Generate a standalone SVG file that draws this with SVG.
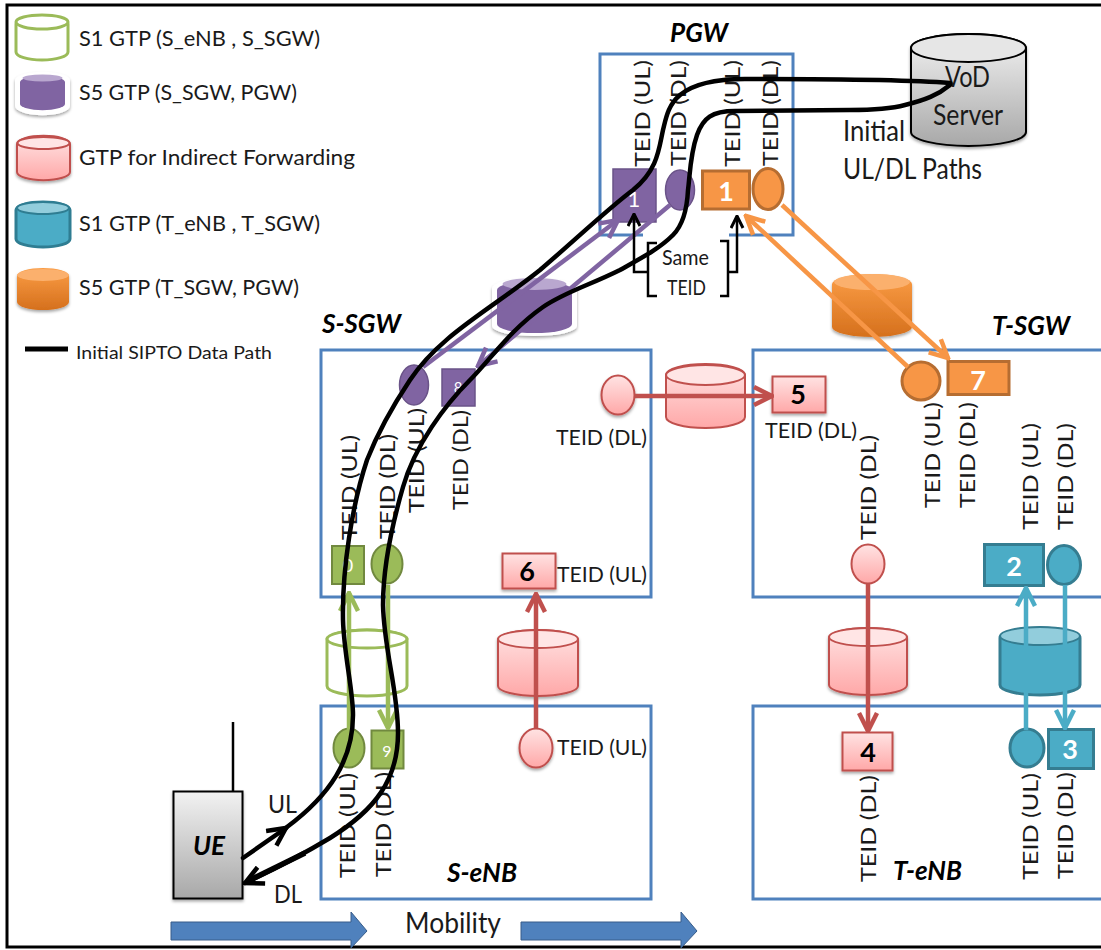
<svg xmlns="http://www.w3.org/2000/svg" width="1101" height="950" viewBox="0 0 1101 950">
<style>
text{font-family:"Lato","Noto Sans","Liberation Sans",sans-serif;fill:#1a1a1a}
.box{fill:none;stroke:#4f81bd;stroke-width:3}
.lg{font-size:22px}
.t{font-size:22px}
.ti{font-size:26px;font-weight:700;font-style:italic;fill:#000}
.big{font-size:29px}
.num{font-size:27px;font-weight:700;text-anchor:middle}
.w{fill:#fff}
.k{fill:#000}
.grn{fill:#9bbb59;stroke:#71893f;stroke-width:2}
.pur{fill:#8064a2;stroke:#6a5388;stroke-width:1.5}
.pnk{fill:url(#gp);stroke:#c0504d;stroke-width:2}
.tea{fill:#4bacc6;stroke:#357d91;stroke-width:3}
.org{fill:#f79646;stroke:#b66d31;stroke-width:3}
.ln{fill:none;stroke-width:4.500}
.black{fill:none;stroke:#000;stroke-width:4.500;stroke-linecap:round;stroke-linejoin:round}
</style>
<defs>
<linearGradient id="gp" x1="0" y1="0" x2="0" y2="1"><stop offset="0" stop-color="#ffe3e3"/><stop offset="1" stop-color="#ffa8a8"/></linearGradient>
<linearGradient id="go" x1="0" y1="0" x2="0" y2="1"><stop offset="0" stop-color="#fb9d45"/><stop offset="1" stop-color="#d5701d"/></linearGradient>
<linearGradient id="gg" x1="0" y1="0" x2="0" y2="1"><stop offset="0" stop-color="#f2f2f2"/><stop offset="1" stop-color="#a8a8a8"/></linearGradient>
<filter id="sh" x="-10%" y="-10%" width="120%" height="125%"><feDropShadow dx="0" dy="2" stdDeviation="1.5" flood-color="#000" flood-opacity=".35"/></filter>
<marker id="mG" viewBox="0 0 10 10" refX="9" refY="5" markerWidth="5" markerHeight="5" orient="auto"><path d="M1,1 L9,5 L1,9" fill="none" stroke="#9bbb59" stroke-width="2"/></marker>
<marker id="mP" viewBox="0 0 10 10" refX="9" refY="5" markerWidth="5" markerHeight="5" orient="auto"><path d="M1,1 L9,5 L1,9" fill="none" stroke="#8064a2" stroke-width="2"/></marker>
<marker id="mR" viewBox="0 0 10 10" refX="9" refY="5" markerWidth="5" markerHeight="5" orient="auto"><path d="M1,1 L9,5 L1,9" fill="none" stroke="#c0504d" stroke-width="2"/></marker>
<marker id="mT" viewBox="0 0 10 10" refX="9" refY="5" markerWidth="5" markerHeight="5" orient="auto"><path d="M1,1 L9,5 L1,9" fill="none" stroke="#4bacc6" stroke-width="2"/></marker>
<marker id="mO" viewBox="0 0 10 10" refX="9" refY="5" markerWidth="5" markerHeight="5" orient="auto"><path d="M1,1 L9,5 L1,9" fill="none" stroke="#f79646" stroke-width="2"/></marker>
<marker id="mK" viewBox="0 0 10 10" refX="9" refY="5" markerWidth="6" markerHeight="6" orient="auto"><path d="M1,1 L9,5 L1,9" fill="none" stroke="#000" stroke-width="2"/></marker>
<marker id="mK2" viewBox="0 0 10 10" refX="9" refY="5" markerWidth="5" markerHeight="5" orient="auto"><path d="M1,1 L9,5 L1,9" fill="none" stroke="#000" stroke-width="2"/></marker>
</defs>
<rect id="frame" x="7" y="5" width="1110" height="942" fill="#fff" stroke="#000" stroke-width="3"/>

<g id="legend">
<g id="leg-s1-source" fill="#fff" stroke="#9bbb59" stroke-width="3"><path d="M16,24 A26,8 0 0 1 68,24 V52 A26,8 0 0 1 16,52 Z"/><ellipse cx="42" cy="22" rx="26" ry="7"/></g>
<g id="leg-s5-source"><path d="M15,80 A27,8 0 0 1 70,80 V106 A27,9 0 0 1 15,106 Z" fill="#fff" filter="url(#sh)"/><path d="M20,82 A22,6 0 0 1 65,82 V104 A22,6 0 0 1 20,104 Z" fill="#8064a2"/><ellipse cx="42.500" cy="78" rx="20" ry="3.500" fill="#b9a7cf"/></g>
<g id="leg-fwd" filter="url(#sh)"><path d="M17,144 A26,8 0 0 1 70,144 V172 A26,8 0 0 1 17,172 Z" fill="url(#gp)" stroke="#c0504d" stroke-width="2"/><ellipse cx="43.500" cy="143" rx="26" ry="6" fill="#ffe5e5" stroke="#c0504d" stroke-width="2"/></g>
<g id="leg-s1-target"><path d="M16,210 A27,8 0 0 1 70,210 V239 A27,8 0 0 1 16,239 Z" fill="#4bacc6" stroke="#2f7d92" stroke-width="3"/><ellipse cx="43" cy="208" rx="26" ry="6" fill="#92cddc" stroke="#2f7d92" stroke-width="2"/></g>
<g id="leg-s5-target" filter="url(#sh)"><path d="M17,276 A26,8 0 0 1 69,276 V302 A26,8 0 0 1 17,302 Z" fill="url(#go)"/><ellipse cx="43" cy="275" rx="26" ry="6" fill="#fbb06d"/></g>
<line x1="25" y1="349" x2="68" y2="349" stroke="#000" stroke-width="5"/>
<text class="lg" x="79" y="46" textLength="241" lengthAdjust="spacingAndGlyphs">S1 GTP (S_eNB , S_SGW)</text>
<text class="lg" x="79" y="100" textLength="218" lengthAdjust="spacingAndGlyphs">S5 GTP (S_SGW, PGW)</text>
<text class="lg" x="79" y="165" textLength="276" lengthAdjust="spacingAndGlyphs">GTP for Indirect Forwarding</text>
<text class="lg" x="79" y="231" textLength="241" lengthAdjust="spacingAndGlyphs">S1 GTP (T_eNB , T_SGW)</text>
<text class="lg" x="79" y="295" textLength="220" lengthAdjust="spacingAndGlyphs">S5 GTP (T_SGW, PGW)</text>
<text x="76" y="359" font-size="18" textLength="196" lengthAdjust="spacingAndGlyphs">Initial SIPTO Data Path</text>
</g>

<g id="vod-server">
<path d="M911,48 A57.500,14 0 0 1 1026,48 V132 A57.500,14 0 0 1 911,132 Z" fill="url(#gg)" stroke="#000" stroke-width="2" filter="url(#sh)"/>
<ellipse cx="968.500" cy="48" rx="57.500" ry="14" fill="#e6e6e6" stroke="#000" stroke-width="2"/>
<text class="big" x="945" y="87" textLength="45" lengthAdjust="spacingAndGlyphs">VoD</text>
<text class="big" x="933" y="125" textLength="70" lengthAdjust="spacingAndGlyphs">Server</text>
</g>
<text id="initial-label" class="big"><tspan x="843" y="141" textLength="62" lengthAdjust="spacingAndGlyphs">Initial</tspan><tspan x="843" y="179" textLength="139" lengthAdjust="spacingAndGlyphs">UL/DL Paths</tspan></text>

<g id="pgw">
<text class="ti" x="670" y="42" textLength="58" lengthAdjust="spacingAndGlyphs">PGW</text>
<path class="box" d="M643,235 H600 V54 H793 V235 H729"/>
<text class="t" transform="translate(650,167) rotate(-90)" textLength="107" lengthAdjust="spacingAndGlyphs">TEID (UL)</text>
<text class="t" transform="translate(686,166) rotate(-90)" textLength="106" lengthAdjust="spacingAndGlyphs">TEID (DL)</text>
<text class="t" transform="translate(740,167) rotate(-90)" textLength="107" lengthAdjust="spacingAndGlyphs">TEID (UL)</text>
<text class="t" transform="translate(778,166) rotate(-90)" textLength="106" lengthAdjust="spacingAndGlyphs">TEID (DL)</text>
<rect class="pur" x="613" y="169" width="43" height="53"/>
<text class="w" x="634" y="207" font-size="22" text-anchor="middle">1</text>
<ellipse class="pur" cx="680" cy="190" rx="14.500" ry="20"/>
<rect class="org" x="702.500" y="171" width="47" height="38"/>
<text class="num w" x="726" y="201">1</text>
<ellipse class="org" cx="768" cy="189" rx="15" ry="20.500"/>
</g>

<g id="same-teid">
<path d="M657,243 H648 V296 H657 M720,241 H728 V296 H720" fill="none" stroke="#000" stroke-width="2.500"/>
<text x="662" y="265" font-size="21" textLength="47" lengthAdjust="spacingAndGlyphs">Same</text>
<text x="667" y="295" font-size="21" textLength="39" lengthAdjust="spacingAndGlyphs">TEID</text>
</g>

<g id="s-sgw">
<text class="ti" x="322" y="333" textLength="79" lengthAdjust="spacingAndGlyphs">S-SGW</text>
<rect class="box" x="321" y="350" width="330" height="247"/>
<ellipse class="pur" cx="414" cy="385" rx="14.500" ry="20"/>
<rect class="pur" x="442" y="369" width="33" height="37"/>
<text class="w" x="458" y="393" font-size="15" text-anchor="middle">8</text>
<ellipse class="pnk" cx="618" cy="395" rx="16.500" ry="19.500" filter="url(#sh)"/>
<text class="t" x="556" y="445" textLength="91" lengthAdjust="spacingAndGlyphs">TEID (DL)</text>
<text class="t" transform="translate(357,540) rotate(-90)" textLength="105" lengthAdjust="spacingAndGlyphs">TEID (UL)</text>
<text class="t" transform="translate(395,539) rotate(-90)" textLength="105" lengthAdjust="spacingAndGlyphs">TEID (DL)</text>
<text class="t" transform="translate(424,513) rotate(-90)" textLength="105" lengthAdjust="spacingAndGlyphs">TEID (UL)</text>
<text class="t" transform="translate(468,510) rotate(-90)" textLength="100" lengthAdjust="spacingAndGlyphs">TEID (DL)</text>
<rect class="grn" x="332" y="546" width="32" height="38"/>
<text class="w" x="348" y="572" font-size="18" text-anchor="middle">0</text>
<ellipse class="grn" cx="387" cy="564" rx="15.500" ry="19.500"/>
<rect class="pnk" x="502.500" y="553.500" width="53" height="35" filter="url(#sh)"/>
<text class="num k" x="527" y="581">6</text>
<text class="t" x="557" y="582" textLength="90" lengthAdjust="spacingAndGlyphs">TEID (UL)</text>
</g>

<g id="t-sgw">
<text class="ti" x="992" y="335" textLength="78" lengthAdjust="spacingAndGlyphs">T-SGW</text>
<path class="box" d="M1103,350 H753 V597 H1103"/>
<rect class="pnk" x="772.500" y="376.500" width="53" height="36" filter="url(#sh)"/>
<text class="num k" x="798" y="404">5</text>
<text class="t" x="765" y="438" textLength="92" lengthAdjust="spacingAndGlyphs">TEID (DL)</text>
<ellipse class="org" cx="921" cy="381" rx="19" ry="19"/>
<rect class="org" x="948" y="361.500" width="61" height="33"/>
<text class="num w" x="978" y="390">7</text>
<text class="t" transform="translate(876,540) rotate(-90)" textLength="105" lengthAdjust="spacingAndGlyphs">TEID (DL)</text>
<text class="t" transform="translate(940,508) rotate(-90)" textLength="106" lengthAdjust="spacingAndGlyphs">TEID (UL)</text>
<text class="t" transform="translate(975,508) rotate(-90)" textLength="106" lengthAdjust="spacingAndGlyphs">TEID (DL)</text>
<text class="t" transform="translate(1038,530) rotate(-90)" textLength="107" lengthAdjust="spacingAndGlyphs">TEID (UL)</text>
<text class="t" transform="translate(1073,530) rotate(-90)" textLength="107" lengthAdjust="spacingAndGlyphs">TEID (DL)</text>
<ellipse class="pnk" cx="868" cy="564" rx="16.500" ry="19.500"/>
<rect class="tea" x="984.500" y="544.500" width="59" height="41"/>
<text class="num w" x="1014" y="576">2</text>
<ellipse class="tea" cx="1064" cy="565" rx="16.500" ry="19.500"/>
</g>

<g id="s-enb">
<text class="ti" x="447" y="882" textLength="70" lengthAdjust="spacingAndGlyphs">S-eNB</text>
<rect class="box" x="321" y="706" width="330" height="193"/>
<ellipse class="grn" cx="349" cy="748" rx="15.500" ry="19.500"/>
<rect class="grn" x="371.500" y="730.500" width="32" height="38"/>
<text class="w" x="387" y="757" font-size="16" text-anchor="middle">9</text>
<ellipse class="pnk" cx="536" cy="748" rx="16.500" ry="19.500" filter="url(#sh)"/>
<text class="t" x="557" y="755" textLength="90" lengthAdjust="spacingAndGlyphs">TEID (UL)</text>
<text class="t" transform="translate(355,878) rotate(-90)" textLength="105" lengthAdjust="spacingAndGlyphs">TEID (UL)</text>
<text class="t" transform="translate(391,877) rotate(-90)" textLength="105" lengthAdjust="spacingAndGlyphs">TEID (DL)</text>
</g>

<g id="t-enb">
<text class="ti" x="893" y="880" textLength="69" lengthAdjust="spacingAndGlyphs">T-eNB</text>
<path class="box" d="M1103,706 H753 V899 H1103"/>
<rect class="pnk" x="842.500" y="732.500" width="50" height="38" filter="url(#sh)"/>
<text class="num k" x="868" y="762">4</text>
<ellipse class="tea" cx="1027" cy="748" rx="17" ry="19"/>
<rect class="tea" x="1048.500" y="729.500" width="45" height="39"/>
<text class="num w" x="1070" y="759">3</text>
<text class="t" transform="translate(876,882) rotate(-90)" textLength="107" lengthAdjust="spacingAndGlyphs">TEID (DL)</text>
<text class="t" transform="translate(1038,880) rotate(-90)" textLength="107" lengthAdjust="spacingAndGlyphs">TEID (UL)</text>
<text class="t" transform="translate(1073,879) rotate(-90)" textLength="107" lengthAdjust="spacingAndGlyphs">TEID (DL)</text>
</g>

<g id="ue">
<line x1="233" y1="722" x2="233" y2="791" stroke="#000" stroke-width="2.500"/>
<rect x="173.500" y="791.500" width="69" height="107" fill="url(#gg)" stroke="#000" stroke-width="2" filter="url(#sh)"/>
<text class="ti" x="193" y="855" font-size="28" textLength="32" lengthAdjust="spacingAndGlyphs">UE</text>
</g>

<g id="tunnels">
<g id="cyl-s5-source"><path d="M492,288 A42,10 0 0 1 577,288 V326 A42,10 0 0 1 492,326 Z" fill="#fff" filter="url(#sh)"/><path d="M497,290 A37,9 0 0 1 572,290 V324 A37,9 0 0 1 497,324 Z" fill="#8064a2"/><ellipse cx="534.500" cy="284" rx="32" ry="6" fill="#b9a7cf"/></g>
<g id="cyl-s5-target" filter="url(#sh)"><path d="M832,284 A40,10 0 0 1 912,284 V327 A40,10 0 0 1 832,327 Z" fill="url(#go)"/><ellipse cx="872" cy="282" rx="38" ry="8" fill="#fbb06d"/></g>
<g id="cyl-fwd-source"><path d="M666,375 A39.500,11 0 0 1 745,375 V417 A39.500,11 0 0 1 666,417 Z" fill="url(#gp)" stroke="#c0504d" stroke-width="2"/><ellipse cx="705.500" cy="375" rx="39.500" ry="10" fill="#ffe5e5" stroke="#c0504d" stroke-width="2"/></g>
<g id="cyl-s1-source" fill="#fff" stroke="#9bbb59" stroke-width="3"><path d="M327,640 A40,10 0 0 1 407,640 V686 A40,10 0 0 1 327,686 Z"/><ellipse cx="367" cy="639" rx="40" ry="9"/></g>
<g id="cyl-fwd-mid" filter="url(#sh)"><path d="M498,640 A40,10 0 0 1 578,640 V686 A40,10 0 0 1 498,686 Z" fill="url(#gp)" stroke="#c0504d" stroke-width="2"/><ellipse cx="538" cy="639" rx="40" ry="9" fill="#ffe5e5" stroke="#c0504d" stroke-width="2"/></g>
<g id="cyl-fwd-target" filter="url(#sh)"><path d="M829,638 A39,10 0 0 1 907,638 V685 A39,10 0 0 1 829,685 Z" fill="url(#gp)" stroke="#c0504d" stroke-width="2"/><ellipse cx="868" cy="637" rx="39" ry="9" fill="#ffe5e5" stroke="#c0504d" stroke-width="2"/></g>
<g id="cyl-s1-target"><path d="M1000,638 A40,10 0 0 1 1080,638 V685 A40,10 0 0 1 1000,685 Z" fill="#4bacc6" stroke="#357d91" stroke-width="3"/><ellipse cx="1040" cy="636" rx="40" ry="9" fill="#92cddc" stroke="#357d91" stroke-width="2"/></g>
</g>

<g id="connectors">
<path class="ln" stroke="#9bbb59" d="M349,730 V593" marker-end="url(#mG)"/>
<path class="ln" stroke="#9bbb59" d="M388,585 V728" marker-end="url(#mG)"/>
<path class="ln" stroke="#8064a2" d="M423,367 L618,220" marker-end="url(#mP)"/>
<path class="ln" stroke="#8064a2" d="M670,205 L478,366" marker-end="url(#mP)"/>
<path class="ln" stroke="#c0504d" d="M635,396 H772" marker-end="url(#mR)"/>
<path class="ln" stroke="#c0504d" d="M536,729 V594" marker-end="url(#mR)"/>
<path class="ln" stroke="#c0504d" d="M868,584 V731" marker-end="url(#mR)"/>
<path class="ln" stroke="#4bacc6" d="M1026,730 V588" marker-end="url(#mT)"/>
<path class="ln" stroke="#4bacc6" d="M1065,585 V728" marker-end="url(#mT)"/>
<path class="ln" stroke="#f79646" d="M782,205 L948,358" marker-end="url(#mO)"/>
<path class="ln" stroke="#f79646" d="M908,367 L746,216" marker-end="url(#mO)"/>
<path d="M648,272 H634 V214" fill="none" stroke="#000" stroke-width="2.500" marker-end="url(#mK)"/>
<path d="M728,272 H737 V216" fill="none" stroke="#000" stroke-width="2.500" marker-end="url(#mK)"/>
<path class="black" d="M950,83 C900,79 800,79 745,79 C715,79 692,85 680,95 C668,105 666,118 663,130 C659,148 658,170 633,190 C610,207 575,240 540,270 C490,310 440,335 410,380 C392,407 378,432 367,460 C352,505 342,570 343,620 C344,655 353,690 353,715 C353,760 330,795 287,827"/>
<path class="black" d="M243,858 L286,828" marker-end="url(#mK2)"/>
<path class="black" d="M950,85 C938,95 925,100 905,105 C890,109 873,110 850,110 L735,111 C712,111 703,118 697,135 C690,155 690,175 688,190 C687,210 683,225 673,235 C660,248 645,256 620,270 C590,285 565,292 543,307 C510,330 490,360 470,380 C445,405 415,445 403,487 C392,525 383,570 383,605 C384,650 398,690 398,733 C398,780 375,810 330,838 C305,853 275,869 245,883" marker-end="url(#mK2)"/>
<path d="M305,853 L248,881" fill="none" stroke="#000" stroke-width="5.500"/>
</g>

<g id="ul-dl-labels">
<text x="268" y="813" font-size="25" textLength="29" lengthAdjust="spacingAndGlyphs">UL</text>
<text x="274" y="903" font-size="25" textLength="28" lengthAdjust="spacingAndGlyphs">DL</text>
</g>

<g id="mobility">
<path d="M171,922 H351 V912 L367,931 L351,948 V940 H171 Z" fill="#4f81bd" stroke="#385d8a" stroke-width="1"/>
<text x="405" y="933" font-size="29" textLength="96" lengthAdjust="spacingAndGlyphs">Mobility</text>
<path d="M521,922 H681 V912 L697,931 L681,948 V940 H521 Z" fill="#4f81bd" stroke="#385d8a" stroke-width="1"/>
</g>
</svg>
